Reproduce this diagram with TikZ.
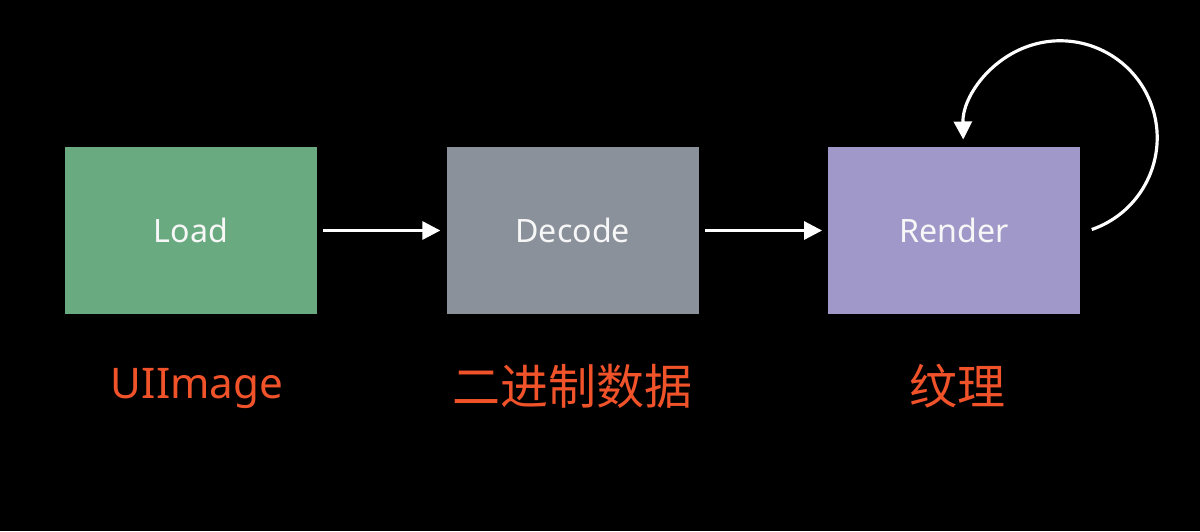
\documentclass[tikz,border=0pt]{standalone}
\usepackage{fontspec}
\setmainfont{Noto Sans}
\newfontfamily\cjk{Noto Sans CJK SC}
\usepackage{xcolor}
\usepackage{tikz}
\usetikzlibrary{positioning,calc,arrows.meta}

\definecolor{loadgreen}{RGB}{106,170,128}
\definecolor{decodegray}{RGB}{138,145,155}
\definecolor{renderpurple}{RGB}{160,152,200}
\definecolor{labelorange}{RGB}{240,82,42}

\begin{document}
\begin{tikzpicture}[
    stage/.style={minimum width=5.04cm, minimum height=3.34cm, inner sep=0pt, text=white!94!gray, font=\fontsize{18.3}{22}\selectfont},
    caption/.style={text=labelorange, anchor=base, inner sep=0pt, font=\fontsize{24}{28}\selectfont},
    flow/.style={white, line width=1.7pt, -{Triangle[length=0.36cm,width=0.36cm]}, shorten <=0.12cm, shorten >=0.12cm}
]
    \fill[black] (0,0) rectangle (24,-10.62);
    \useasboundingbox (0,0) rectangle (24,-10.62);

    % Stages
    \node[stage, fill=loadgreen] (load) at (3.82,-4.61) {Load};
    \node[stage, fill=decodegray, right=2.58cm of load] (decode) {Decode};
    \node[stage, fill=renderpurple, right=2.58cm of decode] (render) {Render};

    \draw[flow] (load) -- (decode);
    \draw[flow] (decode) -- (render);

    % Loop back
    \coordinate (loopstart) at ($(render.east)+(0.22,0.02)$);
    \draw[white, line width=1.8pt, -{Triangle[length=0.36cm,width=0.36cm]}] (loopstart) arc[start angle=-71, end angle=181, radius=1.94cm];

    % Labels
    \node[caption] (uiimage) at ($(load.south)+(0.12,-1.68)$) {UIImage};
    \node[caption, font=\fontsize{27.3}{30}\selectfont] (binary) at ($(decode.south)+(0,-1.8)$) {\cjk 二进制数据};
    \node[caption, font=\fontsize{27.3}{30}\selectfont] (texture) at ($(render.south)+(0.06,-1.8)$) {\cjk 纹理};
\end{tikzpicture}
\end{document}
